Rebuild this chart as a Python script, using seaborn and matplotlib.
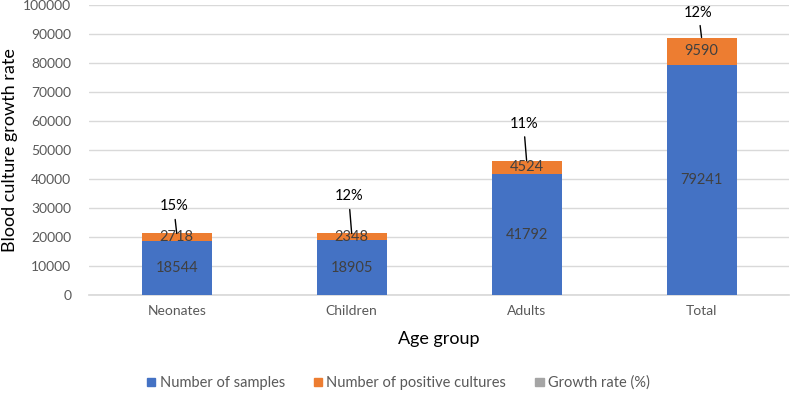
import numpy as np
import pandas as pd
import matplotlib
matplotlib.use("Agg")
import matplotlib.pyplot as plt
import seaborn as sns
from matplotlib.patches import Patch

# chart data
groups = ["Neonates", "Children", "Adults", "Total"]
samples = [18544, 18905, 41792, 79241]
positives = [2718, 2348, 4524, 9590]
growth_rate = [15, 12, 11, 12]

sns.set_theme(style="white")
plt.rcParams["font.family"] = ["Lato", "DejaVu Sans"]

df = pd.DataFrame({"group": groups, "samples": samples,
                   "positives": positives, "rate": growth_rate})
df["top"] = df["samples"] + df["positives"]

blue = "#4472C4"
orange = "#ED7D31"
gray = "#A5A5A5"
txt = "#404040"

fig = plt.figure(figsize=(7.97, 3.94), dpi=100)
ax = fig.add_axes([0.112, 0.251, 0.878, 0.736])

# stacked bars: orange total first, blue samples on top of it
sns.barplot(data=df, x="group", y="top", color=orange, width=0.4,
            saturation=1, linewidth=0, ax=ax, zorder=2)
sns.barplot(data=df, x="group", y="samples", color=blue, width=0.4,
            saturation=1, linewidth=0, ax=ax, zorder=3)

ax.set_ylim(0, 100000)
ax.set_yticks(np.arange(0, 100001, 10000))
ax.yaxis.grid(True, color="#D9D9D9", lw=1)
ax.set_axisbelow(True)
for s in ["top", "right", "left"]:
    ax.spines[s].set_visible(False)
ax.spines["bottom"].set_color("#D9D9D9")
ax.tick_params(axis="both", colors="#595959", labelsize=10, length=0)
ax.tick_params(axis="y", pad=13)
ax.tick_params(axis="x", pad=7)
ax.set_xlabel("Age group", fontsize=13, color="black", labelpad=10)
ax.set_ylabel("Blood culture growth rate", fontsize=13, color="black", labelpad=4)

# labels inside bars
lbl_offsets = [20, 30, 30, 18]  # gap in pixels between bar top and % label
for i, row in df.iterrows():
    ax.text(i, row["samples"] / 2, str(row["samples"]), ha="center", va="center",
            fontsize=10.5, color=txt, zorder=5)
    ax.text(i, row["samples"] + row["positives"] / 2, str(row["positives"]),
            ha="center", va="center", fontsize=10.5, color=txt, zorder=5)
    ax.annotate(f"{row['rate']}%", xy=(i, row["top"]),
                xytext=(-3, lbl_offsets[i]), textcoords="offset pixels",
                ha="center", va="bottom", fontsize=10.5, color="black",
                arrowprops=dict(arrowstyle="-", color="black", lw=1,
                                shrinkA=2, shrinkB=0), zorder=5)

handles = [Patch(color=blue, label="Number of samples"),
           Patch(color=orange, label="Number of positive cultures"),
           Patch(color=gray, label="Growth rate (%)")]
fig.legend(handles=handles, loc="center", bbox_to_anchor=(0.5, 1 - 383 / 394),
           ncol=3, frameon=False, fontsize=10.5, handlelength=0.55,
           handleheight=0.55, columnspacing=2.0, handletextpad=0.3,
           labelcolor="#595959")

fig.savefig("out.png", dpi=100)
